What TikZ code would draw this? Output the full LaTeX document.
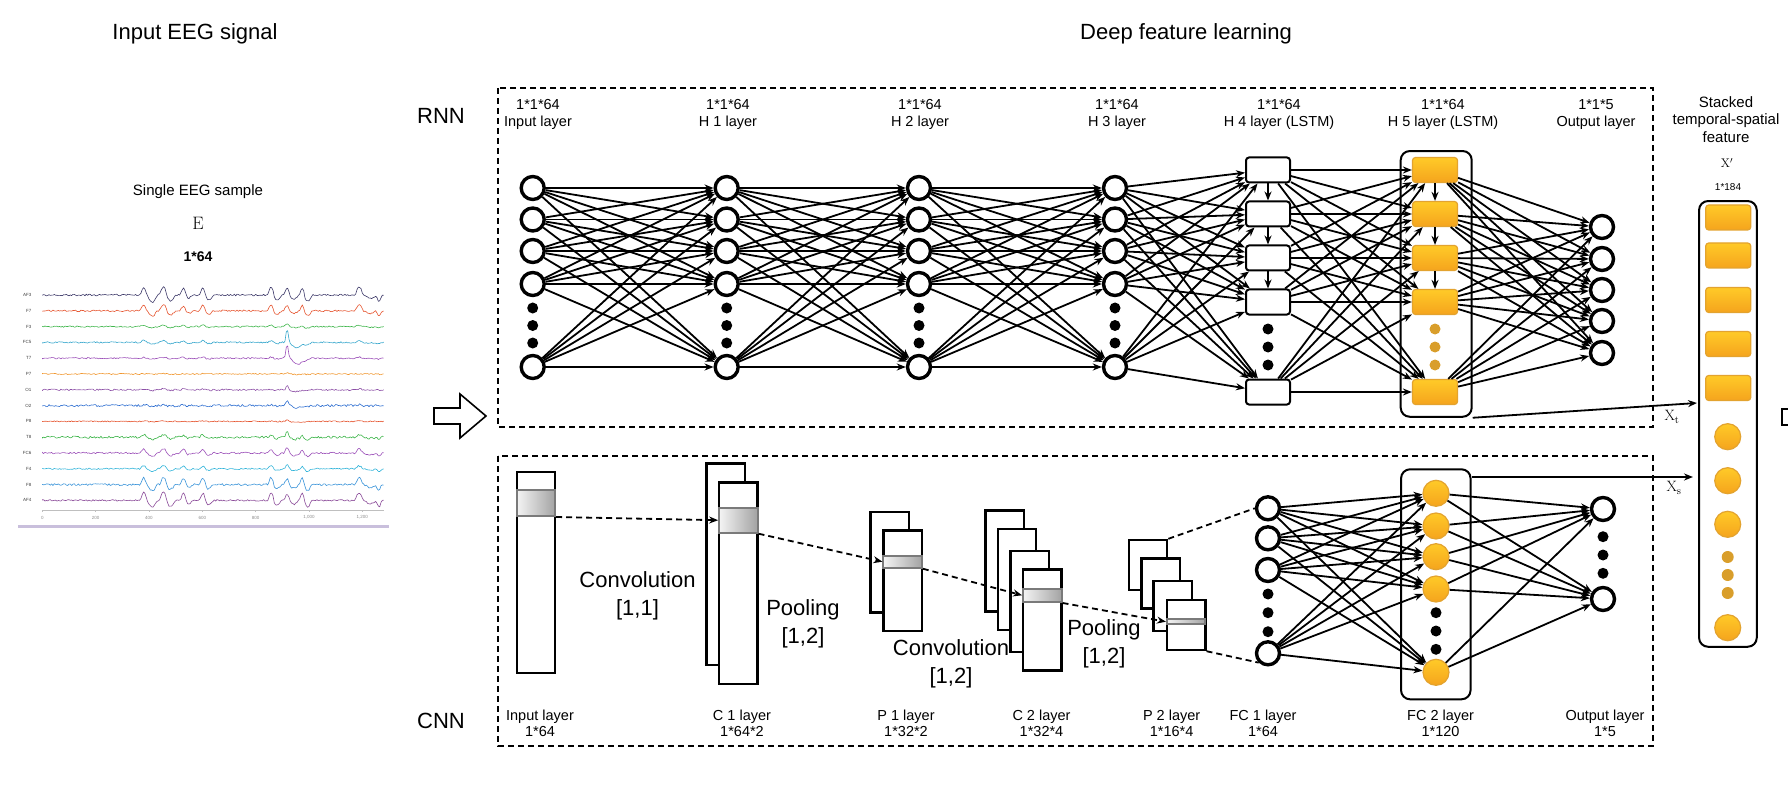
\documentclass[tikz,border=0pt]{standalone}
\usepackage{fontspec}
\setsansfont{Liberation Sans}
\usetikzlibrary{arrows.meta,calc}
\definecolor{oTop}{HTML}{FFCA28}
\definecolor{oBot}{HTML}{F5A41D}
\definecolor{oLine}{HTML}{E3A32F}
\definecolor{oDot}{HTML}{D99E2B}
\definecolor{bandL}{HTML}{F4F4F4}
\definecolor{bandR}{HTML}{A3A3A3}
\definecolor{bandE}{HTML}{7A7A7A}
\definecolor{eA}{HTML}{3C3868}
\definecolor{eB}{HTML}{E5532D}
\definecolor{eC}{HTML}{3DB54A}
\definecolor{eD}{HTML}{35A6CC}
\definecolor{eE}{HTML}{9B4FB8}
\definecolor{eF}{HTML}{F0962E}
\definecolor{eG}{HTML}{8C4FA6}
\definecolor{eH}{HTML}{2B6CCF}
\definecolor{eL}{HTML}{2FB3D9}
\definecolor{eM}{HTML}{3A94D9}
\definecolor{eN}{HTML}{8A4A98}
\definecolor{barC}{HTML}{C9BFDC}

\begin{document}
\begin{tikzpicture}[x=1pt,y=-1pt,
    declare function={
      sq(\dq)=\dq*\dq;
      bmp(\tq,\cq,\wq)=sq(max(0,1-sq((\tq-\cq)/(1.6*\wq))));
      blink(\tq)=bmp(\tq,380,9)-0.9*bmp(\tq,412,14)+1.1*bmp(\tq,455,11)-0.7*bmp(\tq,480,14)
        +0.9*bmp(\tq,530,9)-0.4*bmp(\tq,548,12)+0.9*bmp(\tq,602,9)-0.6*bmp(\tq,624,12)
        +bmp(\tq,858,9)-0.6*bmp(\tq,880,12)+0.8*bmp(\tq,918,9)-0.5*bmp(\tq,942,14)
        +0.9*bmp(\tq,975,8)-0.8*bmp(\tq,995,12)+bmp(\tq,1188,11)-0.4*bmp(\tq,1230,18)
        -0.8*bmp(\tq,1262,8);
      spk(\tq)=bmp(\tq,918,6)-0.45*bmp(\tq,962,24);},
    title/.style={font=\sffamily\fontsize{22}{26}\selectfont},
    lyr/.style={font=\sffamily\fontsize{14.5}{16.5}\selectfont,align=center},
    op/.style={font=\sffamily\fontsize{22}{28}\selectfont,align=center},
    xlbl/.style={font=\fontsize{15}{15}\selectfont},
    chl/.style={font=\sffamily\fontsize{4.5}{5}\selectfont,text=black!75},
    neuron/.style={circle,draw,fill=white,line width=3.4pt,minimum size=23pt,inner sep=0pt},
    blob/.style={circle,fill=black,minimum size=11pt,inner sep=0pt},
    oblob/.style={circle,fill=oDot,minimum size=11pt,inner sep=0pt},
    lstm/.style={draw,fill=white,line width=2pt,rounded corners=3pt,minimum width=44pt,minimum height=25pt,inner sep=0pt},
    ocell/.style={draw=oLine,line width=1.2pt,rounded corners=3pt,top color=oTop,bottom color=oBot,minimum width=45pt,minimum height=25pt,inner sep=0pt},
    oball/.style={circle,draw=oLine,line width=1.2pt,top color=oTop,bottom color=oBot,minimum size=26pt,inner sep=0pt},
    grp/.style={draw,line width=2pt,rounded corners=9pt,inner sep=0pt},
    fmap/.style={draw,fill=white,line width=2.4pt,minimum width=38.4pt,inner sep=0pt},
    bandbox/.style={draw=bandE,line width=2pt,left color=bandL,right color=bandR,minimum width=38.4pt,inner sep=0pt},
    link/.style={line width=1.8pt,-{Stealth[length=9pt,width=7pt]}},
    flow/.style={line width=1.8pt,dash pattern=on 6pt off 4pt,-{Stealth[length=9pt,width=7pt]}},
    frame/.style={line width=2pt,dash pattern=on 6pt off 4pt}]
\useasboundingbox (0,0) rectangle (1788,786);

\node[title] (ttlin) at (195,34) {Input EEG signal};
\node[title] (ttldeep) at (1186,34) {Deep feature learning};
\node[title] (ttlrnn) at (441,116) {RNN};
\node[title] (ttlcnn) at (441,721) {CNN};

\node[font=\sffamily\fontsize{15}{15}\selectfont] (smp) at (198,192) {Single EEG sample};
\node[font=\fontsize{18}{18}\selectfont] (smpe) at (198,223) {$\mathrm{E}$};
\node[font=\sffamily\bfseries\fontsize{14}{14}\selectfont] (smpsz) at (198,257) {1*64};

\def\blist{}
\foreach \s in {0,5,...,1280} {
  \pgfmathsetmacro{\bv}{blink(\s)}
  \pgfmathsetmacro{\sv}{spk(\s)}
  \pgfmathsetmacro{\px}{42.3+0.2667*\s}
  \xdef\blist{\blist\ifx\blist\empty\else,\fi\px/\bv/\sv}
}
\pgfmathsetseed{7}
\foreach[count=\i] \lab/\col/\ab/\as/\nz in {AF3/eA/8/0/0.8,F7/eB/6/0/0.8,F3/eC/1.5/2/0.7,
    FC5/eD/2/11/0.7,T7/eE/1/13/0.7,P7/eF/0.3/1/0.6,O1/eG/0.8/4/0.8,O2/eH/0.8/4/1.1,
    P8/eB/0.3/2/0.6,T8/eC/2.5/3/1.1,FC6/eE/4/2/0.8,F4/eL/3/2/0.7,F8/eM/7/0/1,AF4/eN/8/0/0.8} {
  \pgfmathsetmacro{\yb}{295+15.8*(\i-1)}
  \node[chl,anchor=east] (ch\i) at (35,\yb) {\lab};
  \draw[\col,line width=0.6pt,line join=round] (42.3,\yb)
    \foreach \px/\bv/\sv in \blist { -- (\px,{\yb-\ab*\bv-\as*\sv+\nz*rand}) };
}
\draw[black!25,line width=0.6pt] (42.3,510) -- (384,510);
\foreach[count=\k] \t/\tl in {0/0,200/200,400/400,600/600,800/800,1000/{1,000},1200/{1,200}} {
  \draw[black!25,line width=0.6pt] ({42.3+0.2667*\t},510) -- ++(0,2);
  \node[chl,text=black!45] (tk\k) at ({42.3+0.2667*\t},517.5) {\tl};
}
\draw[barC,line width=3pt] (18,526) -- (389,526);

\draw[line width=1.6pt,fill=white] (434,408) -- (460,408) -- (460,394) -- (486,416)
  -- (460,438) -- (460,424) -- (434,424) -- cycle;

\draw[frame] (498,88) rectangle (1653,427);
\draw[frame] (498,456) rectangle (1653,746);

\foreach[count=\k] \x/\t in {538/{1*1*64\\Input layer},728/{1*1*64\\H 1 layer},920/{1*1*64\\H 2 layer},
    1117/{1*1*64\\H 3 layer},1279/{1*1*64\\H 4 layer (LSTM)},1443/{1*1*64\\H 5 layer (LSTM)},
    1596/{1*1*5\\Output layer}}
  \node[lyr] (rl\k) at (\x,114.3) {\t};

\node[grp,minimum width=71pt,minimum height=265.7pt] (h5box) at (1436.2,283.9) {};

\foreach[count=\l] \x in {532.7,726.7,919,1115} {
  \foreach[count=\i] \y in {188,219.5,251,284,367}
    \node[neuron] (r\l-\i) at (\x,\y) {};
  \foreach[count=\i] \y in {308,325.5,343}
    \node[blob] (r\l-d\i) at (\x,\y) {};
}
\foreach[count=\i] \y in {170,214,258,302,392} {
  \node[lstm] (r5-\i) at (1268,\y) {};
  \node[ocell] (r6-\i) at (1435,\y) {};
}
\foreach[count=\i] \y in {329,347,365} {
  \node[blob] (r5-d\i) at (1268,\y) {};
  \node[oblob] (r6-d\i) at (1435,\y) {};
}
\foreach[count=\i] \y in {227,259,290,321,353}
  \node[neuron] (r7-\i) at (1602,\y) {};

\foreach \l [evaluate=\l as \m using int(\l+1)] in {1,...,6}
  \foreach \i in {1,...,5}
    \foreach \j in {1,...,5}
      \draw[link] (r\l-\i) -- (r\m-\j);
\foreach \l in {5,6}
  \foreach \i/\j in {1/2,2/3,3/4}
    \draw[link] (r\l-\i.south) -- (r\l-\j.north);

\node[fmap,minimum height=201pt] (in) at (536,572.2) {};
\node[fmap,minimum height=201.7pt] (c1-1) at (725.8,564.2) {};
\node[fmap,minimum height=201.3pt] (c1-2) at (738.3,583.3) {};
\node[fmap,minimum height=100.6pt] (p1-1) at (889.8,562) {};
\node[fmap,minimum height=100.3pt] (p1-2) at (902.6,580.8) {};
\foreach[count=\i] \x/\y in {1004.8/561,1017/579.5,1029.5/601.3,1042.3/620}
  \node[fmap,minimum height=101pt] (c2-\i) at (\x,\y) {};
\foreach[count=\i] \x/\y in {1147.9/565,1160.8/583.6,1172.7/605.7,1186.1/625}
  \node[fmap,minimum height=50pt] (p2-\i) at (\x,\y) {};

\node[bandbox,minimum height=26pt] (inb) at (536,503) {};
\node[bandbox,minimum height=25pt] (c1b) at (738.3,520.2) {};
\node[bandbox,minimum height=12pt] (p1b) at (902.6,561.7) {};
\node[bandbox,minimum height=13.3pt] (c2b) at (1042.3,595.3) {};
\node[bandbox,minimum height=5.3pt] (p2b) at (1186.1,621.7) {};

\draw[flow] (inb.south east) -- (c1b.west);
\draw[flow] (c1b.south east) -- (p1b.west);
\draw[flow] (p1b.south east) -- (c2b.west);
\draw[flow] (c2b.south east) -- (p2b.west);

\node[op] (conva) at (637.5,596) {Convolution\\{[1,1]}};
\node[op] (poola) at (803,623.4) {Pooling\\{[1,2]}};
\node[op] (convb) at (951,663.5) {Convolution\\{[1,2]}};
\node[op] (poolb) at (1104,643.4) {Pooling\\{[1,2]}};

\node[grp,minimum width=69.5pt,minimum height=230pt] (fc2box) at (1435.8,584.3) {};

\foreach[count=\i] \y in {508.3,538.3,570,653.3}
  \node[neuron] (f1-\i) at (1268,\y) {};
\foreach[count=\i] \y in {594,612.7,631.7}
  \node[blob] (f1-d\i) at (1268,\y) {};
\foreach[count=\i] \y in {493.3,526,556.7,589,672.3}
  \node[oball] (f2-\i) at (1436,\y) {};
\foreach[count=\i] \y in {612.7,631,649.3}
  \node[blob] (f2-d\i) at (1436,\y) {};
\foreach[count=\i] \y in {509,599}
  \node[neuron] (f3-\i) at (1603,\y) {};
\foreach[count=\i] \y in {536.7,555,573.3}
  \node[blob] (f3-d\i) at (1603,\y) {};

\draw[flow,-] (p2-1.north east) -- (f1-1.west);
\draw[flow,-] (p2-4.south east) -- (f1-4.south west);

\foreach \i in {1,...,4}
  \foreach \j in {1,...,5}
    \draw[link] (f1-\i) -- (f2-\j);
\foreach \i in {1,...,5}
  \foreach \j in {1,2}
    \draw[link] (f2-\i) -- (f3-\j);

\foreach[count=\k] \x/\t in {540/{Input layer\\1*64},742/{C 1 layer\\1*64*2},906/{P 1 layer\\1*32*2},
    1041.5/{C 2 layer\\1*32*4},1171.6/{P 2 layer\\1*16*4},1263/{FC 1 layer\\1*64},
    1440.6/{FC 2 layer\\1*120},1605/{Output layer\\1*5}}
  \node[lyr] (cl\k) at (\x,723.5) {\t};

\node[lyr,font=\sffamily\fontsize{15}{17.5}\selectfont] (stkl) at (1726,119.3) {Stacked\\temporal-spatial\\feature};
\node[font=\fontsize{12.5}{12.5}\selectfont] (stkx) at (1727,163) {$\mathrm{X}'$};
\node[font=\sffamily\fontsize{10}{10}\selectfont] (stksz) at (1728,186.7) {1*184};

\node[grp,minimum width=57.7pt,minimum height=445.7pt] (stk) at (1727.9,423.9) {};
\foreach[count=\i] \y in {217.5,255.5,300,344,388}
  \node[ocell] (s\i) at (1728.2,\y) {};
\foreach[count=\i] \y in {436.7,480.7,524.3,627.7}
  \node[oball] (sc\i) at (1727.7,\y) {};
\foreach[count=\i] \y in {557,575,593}
  \node[oblob,minimum size=12pt] (sd\i) at (1727.7,\y) {};

\coordinate (xt) at (1697,403);
\coordinate (xs) at (1693,477);
\draw[link] (h5box.south east) -- (xt);
\draw[link] (fc2box.east |- xs) -- (xs);
\node[xlbl] (xtl) at (1672,417) {$\mathrm{X}_{\mathrm{t}}$};
\node[xlbl] (xsl) at (1674,488) {$\mathrm{X}_{\mathrm{s}}$};

\draw[line width=2pt] (1788,409) -- (1782,409) -- (1782,425) -- (1788,425);
\end{tikzpicture}
\end{document}
